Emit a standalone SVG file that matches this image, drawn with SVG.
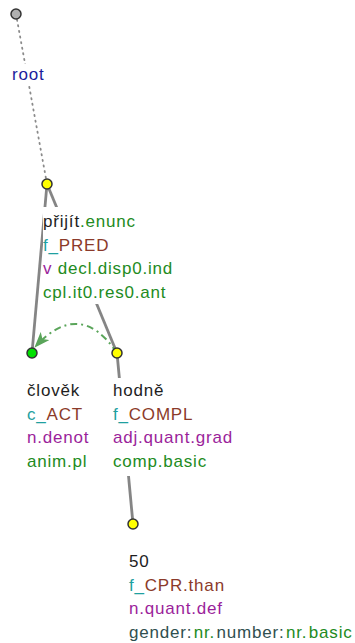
<svg xmlns="http://www.w3.org/2000/svg" width="355" height="643" viewBox="0 0 355 643">
<style>
text{font-family:"Liberation Sans",Arial,sans-serif;font-size:17px;letter-spacing:0.8px}
.lem{fill:#1e1e1e}
.g{fill:#228b22}
.t{fill:#1fa0a0}
.b{fill:#8b3a2a}
.p{fill:#9b1f9b}
.d{fill:#2f4f4f}
.rt{fill:#1c1c9c}
.bg{fill:#fff}
.edge{stroke:#858585;stroke-width:2.8;fill:none}
.dot{stroke:#8a8a8a;stroke-width:1.8;stroke-dasharray:1.2,4.5;fill:none;stroke-linecap:round}
.coref{stroke:#5aa55a;stroke-width:2;stroke-dasharray:7,4,2,4;fill:none}
.node{stroke:#333;stroke-width:1.5}
</style>
<defs>
<marker id="ah" viewBox="0 0 16 12" refX="15" refY="6" markerWidth="16" markerHeight="12" markerUnits="userSpaceOnUse" orient="auto">
<path d="M0,0 L16,6 L0,12 L4,6 z" fill="#5aa55a"/>
</marker>
</defs>
<g id="connectors">
<line class="dot" x1="16" y1="14" x2="47" y2="184"/>
<line class="edge" x1="47" y1="184" x2="32" y2="353"/>
<line class="edge" x1="47" y1="184" x2="117" y2="353"/>
<line class="edge" x1="117" y1="353" x2="133" y2="524"/>
<path class="coref" d="M117,353 Q80,298 35,347" marker-end="url(#ah)"/>
</g>
<g id="root">
<rect class="bg" x="11" y="64" width="35" height="20"/>
<circle class="node" cx="16" cy="14" r="5" fill="#b0b0b0"/>
<text x="12" y="80" class="rt">root</text>
</g>
<g id="prijit">
<rect class="bg" x="43" y="207" width="128" height="97"/>
<circle class="node" cx="47" cy="184" r="5" fill="#ffff00"/>
<text x="43" y="227"><tspan class="lem">přijít</tspan><tspan class="g">.enunc</tspan></text>
<text x="43" y="250.5"><tspan class="t">f_</tspan><tspan class="b">PRED</tspan></text>
<text x="43" y="274"><tspan class="p">v</tspan><tspan class="g"> decl.disp0.ind</tspan></text>
<text x="43" y="297.5" class="g">cpl.it0.res0.ant</text>
</g>
<g id="clovek">
<rect class="bg" x="27" y="378" width="66" height="95"/>
<circle class="node" cx="32" cy="353" r="5" fill="#00e000"/>
<text x="27" y="396" class="lem">člověk</text>
<text x="27" y="419.5"><tspan class="t">c_</tspan><tspan class="b">ACT</tspan></text>
<text x="27" y="443" class="p">n.denot</text>
<text x="27" y="466.5" class="g">anim.pl</text>
</g>
<g id="hodne">
<rect class="bg" x="112" y="378" width="130" height="98"/>
<circle class="node" cx="117" cy="353" r="5" fill="#ffff00"/>
<text x="113" y="396" class="lem">hodně</text>
<text x="113" y="419.5"><tspan class="t">f_</tspan><tspan class="b">COMPL</tspan></text>
<text x="113" y="443" class="p">adj.quant.grad</text>
<text x="113" y="466.5" class="g">comp.basic</text>
</g>
<g id="n50">
<rect class="bg" x="128" y="550" width="227" height="93"/>
<circle class="node" cx="133" cy="524" r="5" fill="#ffff00"/>
<text x="129" y="567" class="lem">50</text>
<text x="129" y="590.5"><tspan class="t">f_</tspan><tspan class="b">CPR.than</tspan></text>
<text x="129" y="614" class="p">n.quant.def</text>
<text x="129" y="637.5"><tspan class="d">gender:</tspan><tspan class="g" dx="1.5">nr.</tspan><tspan class="d" dx="1.5">number:</tspan><tspan class="g" dx="1.5">nr.</tspan><tspan class="g" dx="1.5">basic</tspan></text>
</g>
</svg>
